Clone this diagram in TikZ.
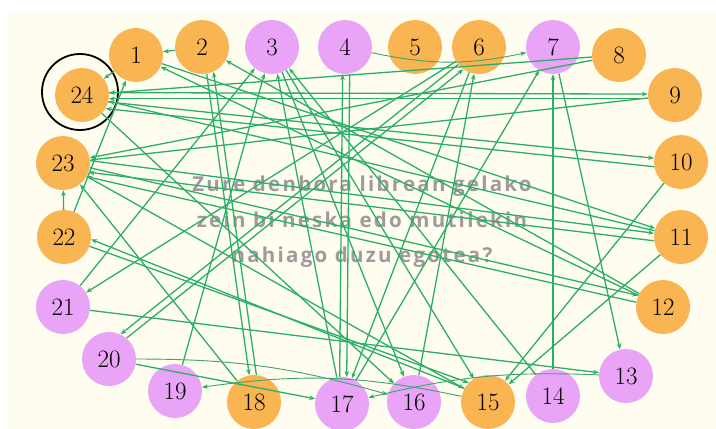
\documentclass[tikz,border=0pt]{standalone}
\usepackage{fontspec}
\newfontfamily\titlefont[LetterSpace=11]{Open Sans Bold}
\usetikzlibrary{arrows.meta}
\definecolor{cream}{HTML}{FFFDF0}
\definecolor{girlc}{HTML}{E9A4F7}
\definecolor{boyc}{HTML}{F9B552}
\definecolor{linkc}{HTML}{2BAF66}
\definecolor{titlec}{HTML}{A09A9C}
\begin{document}
\begin{tikzpicture}[x=1pt, y=-1pt,
    pupil/.style={circle, minimum size=54pt, inner sep=0pt, font=\fontsize{25}{30}\selectfont},
    boy/.style={pupil, fill=boyc},
    girl/.style={pupil, fill=girlc},
    link/.style={draw=linkc, line width=1.3pt, -{Stealth[length=6pt, width=4.5pt]}},
    bentlink/.style={link, draw=linkc!75!gray, line width=0.9pt}
]
    \useasboundingbox (0,0) rectangle (716,429);
    \fill[cream] (8,13) rectangle (716,429);

    % question
    \node[text=titlec, align=center, font=\titlefont\fontsize{20.5}{35.5}\selectfont] (question) at (362,222)
        {Zure denbora librean gelako\\zein bi neska edo mutilekin\\nahiago duzu egotea?};

    % top row
    \node[boy]  (p1)  at (136,55)  {1};
    \node[boy]  (p2)  at (202,47)  {2};
    \node[girl] (p3)  at (272,47)  {3};
    \node[girl] (p4)  at (345,47)  {4};
    \node[boy]  (p5)  at (415,47)  {5};
    \node[boy]  (p6)  at (479,47)  {6};
    \node[girl] (p7)  at (553,47)  {7};
    \node[boy]  (p8)  at (619,55)  {8};
    % right side
    \node[boy]  (p9)  at (675,95)  {9};
    \node[boy]  (p10) at (681,162) {10};
    \node[boy]  (p11) at (681,237) {11};
    \node[boy]  (p12) at (663,307) {12};
    % bottom row
    \node[girl] (p13) at (626,376) {13};
    \node[girl] (p14) at (553,396) {14};
    \node[boy]  (p15) at (488,402) {15};
    \node[girl] (p16) at (414,402) {16};
    \node[girl] (p17) at (342,404) {17};
    \node[boy]  (p18) at (254,402) {18};
    \node[girl] (p19) at (175,391) {19};
    \node[girl] (p20) at (109,359) {20};
    % left side
    \node[girl] (p21) at (63,307)  {21};
    \node[boy]  (p22) at (64,237)  {22};
    \node[boy]  (p23) at (63,163)  {23};
    \node[boy]  (p24) at (82,95)   {24};
    \draw[line width=1.8pt] (80,92) circle (38);

    % choices
    \draw[link] (p2) -- (p1);
    \draw[link] (p1) -- (p24);
    \draw[link] (p22) -- (p1);
    \draw[link] (p12) -- (p1);
    \draw[link] (p12) -- (p2);
    \draw[link] (p2.-80) -- (p18.100);
    \draw[link] (p18.85) -- (p2.-65);
    \draw[link] (p19) -- (p3);
    \draw[link] (p17) -- (p3);
    \draw[link] (p21) -- (p3);
    \draw[link] (p14) -- (p3);
    \draw[bentlink] (p4) to[bend right=12] (p7);
    \draw[link] (p4.-80) -- (p17.80);
    \draw[link] (p17.95) -- (p4.-95);
    \draw[link] (p20.50) -- (p6.-125);
    \draw[link] (p6.-140) -- (p20.65);
    \draw[link] (p6) -- (p21);
    \draw[link] (p6) -- (p17);
    \draw[link] (p16) -- (p6);
    \draw[link] (p14) -- (p7);
    \draw[link] (p17) -- (p7);
    \draw[link] (p7) -- (p13);
    \draw[link] (p8) -- (p24);
    \draw[link] (p8) -- (p23);
    \draw[link] (p24.5) -- (p9.178);
    \draw[link] (p9.188) -- (p24.-8);
    \draw[link] (p9) -- (p23);
    \draw[link] (p24.-15) -- (p10.172);
    \draw[link] (p10.190) -- (p24.-30);
    \draw[link] (p10) -- (p15);
    \draw[link] (p23.5) -- (p11.172);
    \draw[link] (p11.188) -- (p23.-20);
    \draw[link] (p11) -- (p15);
    \draw[link] (p22) -- (p23);
    \draw[link] (p15.150) -- (p22.-5);
    \draw[link] (p22.-20) -- (p15.135);
    \draw[link] (p23) -- (p15);
    \draw[link] (p21) -- (p13);
    \draw[link] (p20) -- (p17);
    \draw[bentlink] (p20) to[bend left=8] (p16);
    \draw[bentlink] (p15) to[bend right=10] (p19);
    \draw[bentlink] (p13) to[bend right=8] (p17);
    \draw[link] (p18) -- (p23);
    \draw[link] (p23.-10) -- (p12.155);
    \draw[link] (p12.170) -- (p23.-30);
    \draw[link] (p3) -- (p15);
    \draw[link] (p3) -- (p16);
    \draw[link] (p1) -- (p11);
    \draw[link] (p11) -- (p24);
    \draw[link] (p24) -- (p16);
\end{tikzpicture}
\end{document}
